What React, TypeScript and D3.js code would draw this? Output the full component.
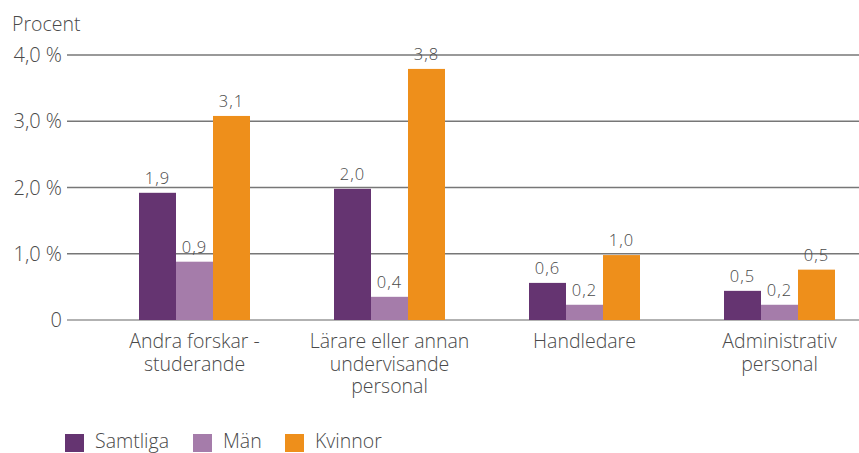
import React from "react";
import * as d3 from "d3";

const categories = [
  ["Andra forskar -", "studerande"],
  ["Lärare eller annan", "undervisande", "personal"],
  ["Handledare"],
  ["Administrativ", "personal"],
];
const seriesNames = ["Samtliga", "Män", "Kvinnor"];
const seriesColors = ["#653471", "#a57caa", "#ee8f1b"];
// bar heights as drawn
const samtliga = [1.92, 1.98, 0.56, 0.44];
const man = [0.88, 0.35, 0.23, 0.23];
const kvinnor = [3.08, 3.79, 0.98, 0.76];
// printed labels
const samtligaLabels = ["1,9", "2,0", "0,6", "0,5"];
const manLabels = ["0,9", "0,4", "0,2", "0,2"];
const kvinnorLabels = ["3,1", "3,8", "1,0", "0,5"];
const yTicks = [0, 1, 2, 3, 4];
const yTickLabels = ["0", "1,0 %", "2,0 %", "3,0 %", "4,0 %"];

const W = 859, H = 453;
const font = "'Open Sans', Lato, sans-serif";
const textColor = "#4a4a4a";

const App = () => {
  const y = d3.scaleLinear().domain([0, 4]).range([320, 55]);
  const x0 = d3.scaleBand<number>().domain(d3.range(categories.length)).range([97, 877]);
  const x1 = d3.scaleBand<number>().domain(d3.range(seriesNames.length)).range([42, 153]);
  const values = [samtliga, man, kvinnor];
  const labels = [samtligaLabels, manLabels, kvinnorLabels];

  return (
    <svg width={W} height={H} style={{ position: "absolute", left: 0, top: 0 }} fontFamily={font}>
      <text x={12} y={31} fontSize={19.5} fill={textColor} fontWeight={300}>Procent</text>

      {yTicks.map((t, i) => (
        <g key={t}>
          <line x1={67} x2={W} y1={y(t)} y2={y(t)} stroke={t === 0 ? "#999" : "#777"} strokeWidth={1.3} />
          <text x={62} y={y(t)} dy="0.35em" textAnchor="end" fontSize={20} fill={textColor} fontWeight={300}>
            {yTickLabels[i]}
          </text>
        </g>
      ))}

      {categories.map((cat, ci) => (
        <g key={ci} transform={`translate(${x0(ci)},0)`}>
          {values.map((vals, si) => (
            <g key={si}>
              <rect x={x1(si)} y={y(vals[ci])} width={x1.bandwidth()} height={y(0) - y(vals[ci])} fill={seriesColors[si]} />
              <text x={x1(si)! + x1.bandwidth() / 2} y={y(vals[ci]) - 9} textAnchor="middle" fontSize={16.5} fill={textColor} fontWeight={300} letterSpacing={1}>
                {labels[si][ci]}
              </text>
            </g>
          ))}
          <text y={348} textAnchor="middle" fontSize={19.5} fill={textColor} fontWeight={300}>
            {cat.map((line, li) => (
              <tspan key={li} x={x0.bandwidth() / 2} dy={li === 0 ? 0 : 22.7}>
                {line}
              </tspan>
            ))}
          </text>
        </g>
      ))}

      {seriesNames.map((name, i) => {
        const lx = [65, 193, 285][i];
        return (
          <g key={name}>
            <rect x={lx} y={434} width={19} height={18} fill={seriesColors[i]} />
            <text x={lx + 30} y={447.5} fontSize={19.5} fill={textColor} fontWeight={300}>{name}</text>
          </g>
        );
      })}
    </svg>
  );
};

export default App;
